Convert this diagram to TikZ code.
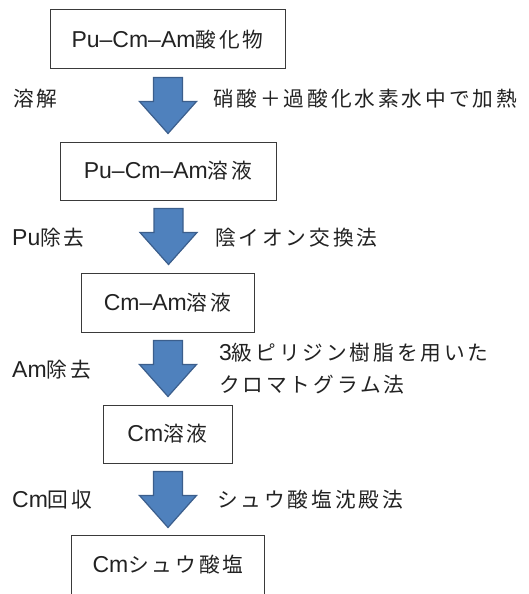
\documentclass[tikz,border=0pt]{standalone}
\usepackage{fontspec}
\setmainfont{Liberation Sans}
\newfontfamily\jp[Scale=0.9,LetterSpace=14]{Noto Sans CJK JP}
\usetikzlibrary{calc}
\definecolor{arrfill}{HTML}{4F81BD}
\definecolor{arrline}{HTML}{3B5E8C}
\definecolor{txt}{HTML}{222222}
\definecolor{boxline}{HTML}{3A3A3A}
\begin{document}
\begin{tikzpicture}[x=1pt,y=-1pt,
  font=\fontsize{23}{32}\selectfont,
  box/.style={draw=boxline, line width=1pt, inner sep=0pt, text=txt, anchor=center},
  lbl/.style={anchor=west, inner sep=0pt, text=txt},
  bigarr/.style={fill=arrfill, draw=arrline, line width=1.2pt, line join=miter}]
\useasboundingbox (0,0) rectangle (528,594);
% boxes
\node[box, minimum width=235pt, minimum height=59pt] (b1) at (167.5,39.5) {Pu–Cm–Am{\jp 酸化物}};
\node[box, minimum width=216pt, minimum height=58pt] (b2) at (168,171) {Pu–Cm–Am{\jp 溶液}};
\node[box, minimum width=173pt, minimum height=59pt] (b3) at (167.5,302.5) {Cm–Am{\jp 溶液}};
\node[box, minimum width=129pt, minimum height=58pt] (b4) at (167.5,434) {Cm{\jp 溶液}};
\node[inner sep=0pt, text=txt, minimum width=192pt, minimum height=58pt] (b5) at (168,565) {Cm{\jp シュウ酸塩}};
\draw[draw=boxline, line width=1pt] (b5.south west) -- (b5.north west) -- (b5.north east) -- (b5.south east);
% block arrows
\foreach \a/\b in {b1/b2,b2/b3,b3/b4,b4/b5}{
  \draw[bigarr] ($(\a.south)+(0.5,8)$) ++(-14.5,0) -- ++(29,0) -- ++(0,24) -- ++(14,0)
     -- ++(-28.5,32) -- ++(-28.5,-32) -- ++(14,0) -- cycle;
}
% labels
\node[lbl] (l1) at (13,99) {{\jp 溶解}};
\node[lbl] (r1) at (213,99) {{\jp 硝酸＋過酸化水素水中で加熱}};
\node[lbl] (l2) at (12,238) {Pu{\jp 除去}};
\node[lbl] (r2) at (215,238) {{\jp 陰イオン交換法}};
\node[lbl] (l3) at (12,370) {Am{\jp 除去}};
\node[lbl, align=left] (r3) at (219,369) {3{\jp 級ピリジン樹脂を用いた}\\{\jp クロマトグラム法}};
\node[lbl] (l4) at (12,500) {Cm{\jp 回収}};
\node[lbl] (r4) at (217,500) {{\jp シュウ酸塩沈殿法}};
\end{tikzpicture}
\end{document}
